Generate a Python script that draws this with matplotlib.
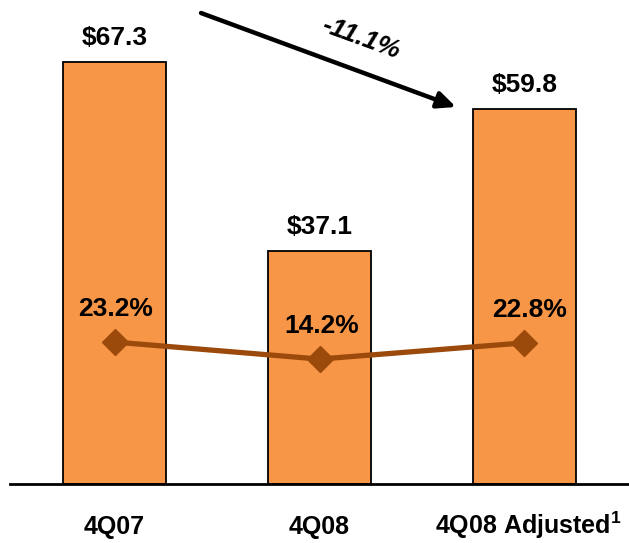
import matplotlib
matplotlib.use("Agg")
import matplotlib.pyplot as plt

categories = ["4Q07", "4Q08", "4Q08 Adjusted"]
revenue = [67.3, 37.1, 59.8]
margin = [23.2, 14.2, 22.8]
bar_labels = ["$67.3", "$37.1", "$59.8"]
margin_labels = ["23.2%", "14.2%", "22.8%"]
tick_labels = ["4Q07", "4Q08", r"4Q08 Adjusted$^{\mathbf{1}}$"]
change_label = "-11.1%"

plt.rcParams['font.family'] = ['Liberation Sans', 'DejaVu Sans']
plt.rcParams['mathtext.fontset'] = 'custom'
plt.rcParams['mathtext.rm'] = 'Liberation Sans'
plt.rcParams['mathtext.bf'] = 'Liberation Sans:bold'

W, H = 629, 543
fig = plt.figure(figsize=(W / 100, H / 100), dpi=100)
left_px, right_px, base_px, top_px = 10, 629, 484, 10
ax = fig.add_axes([left_px / W, (H - base_px) / H, (right_px - left_px) / W, (base_px - top_px) / H])
ax.set_xlim(-0.51, 2.51)
ax.set_ylim(0, (base_px - top_px) / 6.27)

x = list(range(len(categories)))
ax.bar(x, revenue, width=0.5, color="#F79646", edgecolor="black", linewidth=1.3, zorder=2)
for xi, v, lab in zip(x, revenue, bar_labels):
    ax.annotate(lab, (xi, v), xytext=(0, 9), textcoords="offset points",
                ha="center", va="bottom", fontsize=19, fontweight="bold")

for s in ["top", "right", "left"]:
    ax.spines[s].set_visible(False)
ax.spines["bottom"].set_linewidth(2)
ax.set_yticks([])
ax.set_xticks([])
tick_dx = [0, 0, 3]
for xi, lab, dx in zip(x, tick_labels, tick_dx):
    ax.annotate(lab, (xi, 0), xycoords=("data", "axes fraction"), xytext=(dx, -36),
                textcoords="offset points", ha="center", va="baseline",
                fontsize=18, fontweight="bold", annotation_clip=False)

ax2 = ax.twinx()
ax2.set_ylim(-51.9, 198.9)
ax2.set_yticks([])
for s in ["top", "right", "left", "bottom"]:
    ax2.spines[s].set_visible(False)
ax2.plot(x, margin, color="#9C4A0C", linewidth=3.8, marker="D", markersize=13, zorder=3)
offsets = [(1, 15), (1.5, 15), (3.5, 15)]
for xi, v, lab, off in zip(x, margin, margin_labels, offsets):
    ax2.annotate(lab, (xi, v), xytext=off, textcoords="offset points",
                 ha="center", va="bottom", fontsize=19, fontweight="bold")

ax.annotate("", xy=(456, H - 107), xycoords="figure pixels",
            xytext=(201, H - 13), textcoords="figure pixels",
            arrowprops=dict(arrowstyle="-|>,head_length=1.1,head_width=0.5", color="black", lw=3.2,
                            shrinkA=0, shrinkB=0))
fig.text(361 / W, 1 - 38 / H, change_label, fontsize=19, fontweight="bold", fontstyle="italic",
         rotation=-20, ha="center", va="center")

fig.savefig("out.png", dpi=100)
